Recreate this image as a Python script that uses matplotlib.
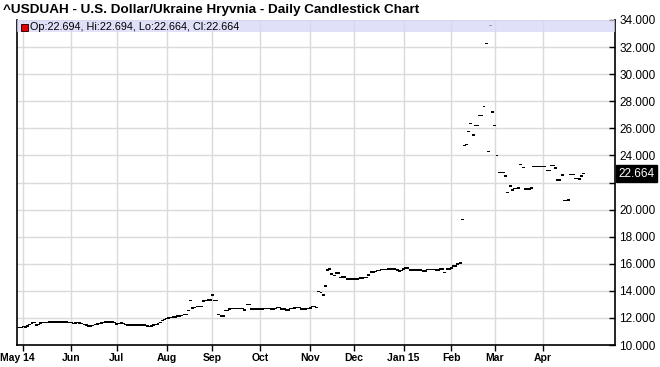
import numpy as np
import pandas as pd
import matplotlib
matplotlib.use('Agg')
import matplotlib.pyplot as plt
import matplotlib.transforms as mtransforms
from matplotlib.patches import Rectangle

plt.rcParams['font.family'] = ['Liberation Sans', 'DejaVu Sans']

# daily closes, one list per month
apr14 = [11.28, 11.30]
may14 = [11.36, 11.33, 11.40, 11.52, 11.62, 11.65, 11.48, 11.52, 11.62, 11.66, 11.68,
         11.68, 11.70, 11.70, 11.69, 11.70, 11.71, 11.70, 11.70, 11.69, 11.70, 11.68]
jun14 = [11.66, 11.60, 11.62, 11.65, 11.63, 11.58, 11.53, 11.48, 11.42, 11.40, 11.45,
         11.50, 11.55, 11.60, 11.64, 11.67, 11.70, 11.70, 11.69, 11.70, 11.68]
jul14 = [11.55, 11.58, 11.62, 11.60, 11.52, 11.48, 11.47, 11.48, 11.48, 11.47, 11.48,
         11.48, 11.47, 11.46, 11.42, 11.38, 11.40, 11.47, 11.50, 11.55, 11.66, 11.80, 11.88]
aug14 = [11.95, 12.00, 12.02, 12.05, 12.08, 12.15, 12.15, 12.18, 12.27, 12.27, 12.55,
         13.28, 12.72, 12.78, 12.84, 12.84, 12.84, 13.26, 13.28, 13.33, 13.33]
sep14 = [13.70, 13.30, 13.30, 12.27, 12.15, 12.15, 12.54, 12.54, 12.65, 12.70, 12.70,
         12.71, 12.70, 12.70, 12.71, 12.60, 13.00, 12.98, 12.67, 12.67, 12.67, 12.65]
oct14 = [12.65, 12.65, 12.70, 12.70, 12.70, 12.65, 12.65, 12.70, 12.76, 12.76, 12.65,
         12.65, 12.57, 12.60, 12.70, 12.70, 12.72, 12.76, 12.76, 12.67, 12.67, 12.67, 12.70]
nov14 = [12.72, 12.84, 12.84, 12.76, 13.95, 13.87, 13.70, 14.37, 15.55, 15.60, 15.26,
         15.13, 15.33, 15.33, 14.99, 15.03, 15.03, 14.87, 14.87, 14.87]
dec14 = [14.87, 14.87, 14.87, 14.94, 14.94, 15.00, 15.00, 15.18, 15.38, 15.38, 15.43,
         15.50, 15.50, 15.58, 15.58, 15.58, 15.60, 15.60, 15.63, 15.63, 15.55, 15.48, 15.50]
jan15 = [15.62, 15.68, 15.68, 15.55, 15.55, 15.55, 15.53, 15.53, 15.53, 15.46, 15.46,
         15.58, 15.58, 15.58, 15.58, 15.55, 15.55, 15.60, 15.60, 15.36, 15.60, 15.60]
feb15 = [15.68, 15.85, 15.85, 15.98, 16.07, 19.26, 24.74, 24.80, 25.76, 26.37, 25.50,
         26.20, 26.20, 26.96, 26.96, 27.60, 32.27, 24.30, 33.60, 27.20]
mar15 = [26.20, 24.00, 22.74, 22.74, 22.74, 22.47, 21.28, 21.73, 21.43, 21.55, 21.55,
         21.60, 23.33, 23.10, 21.53, 21.53, 21.53, 21.60, 23.20, 23.20, 23.20, 23.20]
apr15 = [23.20, 23.20, 22.90, 22.90, 23.26, 23.26, 23.06, 22.20, 22.20, 22.54, 20.67,
         20.67, 20.72, 22.60, 22.60, 22.30, 22.30, 22.27, 22.47, 22.664]

# last bar
last_open, last_high, last_low, last_close = 22.694, 22.694, 22.664, 22.664

month_labels = ['May 14', 'Jun', 'Jul', 'Aug', 'Sep', 'Oct', 'Nov', 'Dec',
                'Jan 15', 'Feb', 'Mar', 'Apr']
title = '^USDUAH - U.S. Dollar/Ukraine Hryvnia - Daily Candlestick Chart'

closes = np.array(apr14 + may14 + jun14 + jul14 + aug14 + sep14 + oct14 + nov14
                  + dec14 + jan15 + feb15 + mar15 + apr15)
dates = pd.bdate_range('2014-04-29', '2015-04-28')
xs = np.arange(len(dates))

# first bar of each month (skip the partial April 2014)
starts = np.flatnonzero(np.r_[True, dates.month[1:] != dates.month[:-1]])[1:]

fig = plt.figure(figsize=(6.6, 3.67), dpi=100)
ax = fig.add_axes([17 / 660, 1 - 345 / 367, 598 / 660, 325 / 367])

# candles, drawn as small dashes
ax.bar(xs, 0.11, bottom=closes - 0.055, width=1.35, color='black',
       linewidth=0, zorder=3)

ax.set_xlim(-0.9, 274.3)
ax.set_ylim(10, 34)

yt = np.arange(10, 35, 2)
ylabels = ['' if abs(v - last_close) < 0.8 else '%.3f' % v for v in yt]
ax.set_yticks(yt)
ax.set_yticklabels(ylabels)
ax.yaxis.tick_right()
ax.tick_params(axis='y', direction='in', length=4, width=1, pad=3,
               labelsize=8.5, left=False, right=True)

ax.set_xticks(starts)
ax.set_xticklabels(month_labels, fontweight='bold')
ax.tick_params(axis='x', direction='out', length=4, width=1, labelsize=7.5, pad=2)
# first label sits a little left of its tick
first = ax.get_xticklabels()[0]
first.set_transform(first.get_transform()
                    + mtransforms.ScaledTranslation(-6 / 100, 0, fig.dpi_scale_trans))

ax.grid(True, color='#dadada', linewidth=1.0, zorder=0)
ax.set_axisbelow(True)
ax.spines['top'].set_visible(False)
for s in ['left', 'bottom', 'right']:
    ax.spines[s].set_linewidth(1.2)
    ax.spines[s].set_color('black')

# legend band
band_h = 12 / 325
ax.add_patch(Rectangle((0, 1 - band_h), 1, band_h, transform=ax.transAxes,
                       facecolor='#d6d6f8', alpha=0.75, edgecolor='none',
                       zorder=5, clip_on=False))
ax.add_patch(Rectangle((4 / 598, 1 - 10.5 / 325), 6.5 / 598, 6.5 / 325,
                       transform=ax.transAxes, facecolor='#dd0000',
                       edgecolor='#440000', linewidth=0.7, zorder=6))
ax.text(12.5 / 598, 1 - 6.5 / 325,
        'Op:%.3f, Hi:%.3f, Lo:%.3f, Cl:%.3f' % (last_open, last_high, last_low, last_close),
        transform=ax.transAxes, fontsize=7.8, va='center', ha='left', zorder=6)

# last price marker
trans = mtransforms.blended_transform_factory(ax.transAxes, ax.transData)
ax.text(1.006, last_close, '%.3f' % last_close, transform=trans, fontsize=8.5,
        color='white', va='center', ha='left',
        bbox=dict(facecolor='black', edgecolor='black', boxstyle='square,pad=0.2'))

fig.text(3 / 660, 1 - 9.5 / 367, title, fontsize=9.7, fontweight='bold',
         va='center', ha='left')

fig.savefig('out.png', dpi=100)
